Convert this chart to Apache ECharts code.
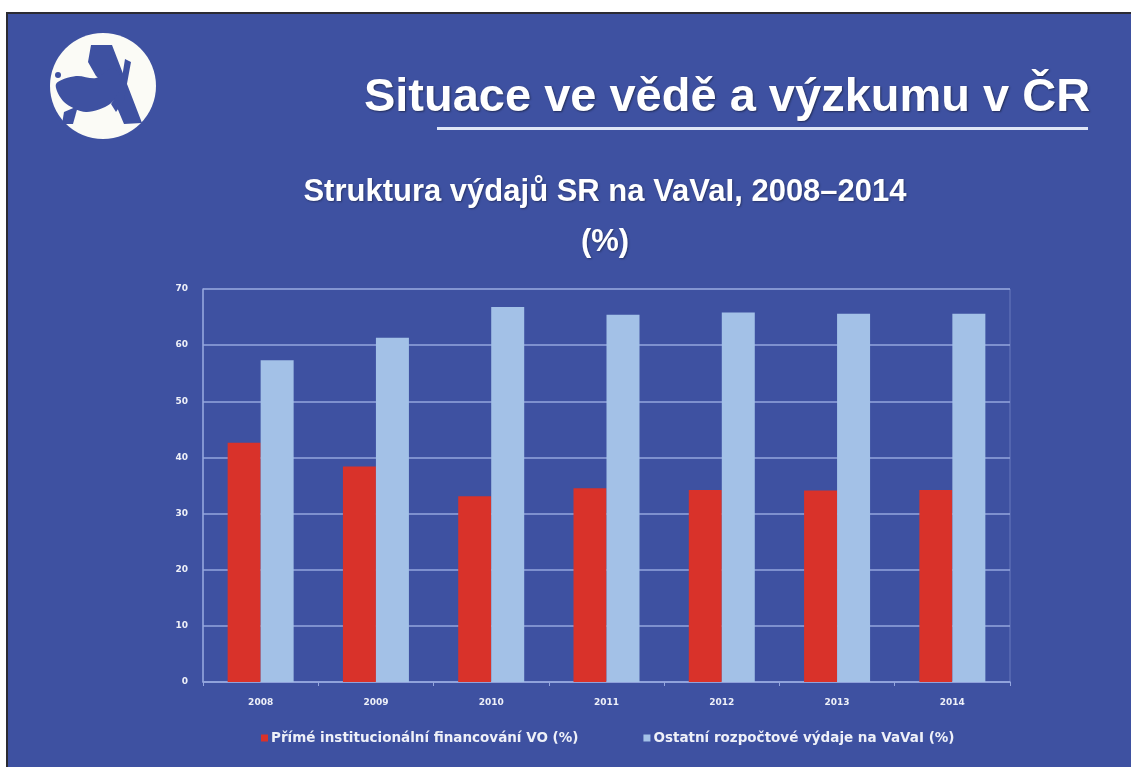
<!DOCTYPE html>
<html>
<head>
<meta charset="utf-8">
<script src="https://cdn.jsdelivr.net/npm/echarts@6/dist/echarts.min.js"></script>
<style>
  html, body { margin: 0; padding: 0; background: #fff; }
  .slide {
    position: absolute;
    left: 6px; top: 12px; right: 0; bottom: 0;
    background: #3e51a1;
    border-left: 2px solid #2b2b33;
    border-top: 2px solid #2b2b33;
  }
  #chart { position: absolute; left: 0; top: 0; width: 1131px; height: 767px; }
</style>
</head>
<body>
<div class="slide"></div>
<div id="chart"></div>
<script>
// data
const years = ['2008', '2009', '2010', '2011', '2012', '2013', '2014'];
const primeFinancovani = [42.6, 38.4, 33.1, 34.5, 34.2, 34.1, 34.2];
const ostatniVydaje = [57.3, 61.3, 66.8, 65.4, 65.8, 65.6, 65.6];
const seriesNames = ['Přímé institucionální financování VO (%)', 'Ostatní rozpočtové výdaje na VaVaI (%)'];

const bg = '#3e51a1';
const gridColor = '#94a6de';
const labelColor = '#eef0f8';

const myChart = echarts.init(document.getElementById('chart'));

// logo - bily kruh s modrou figurou
const logo = [
  { type: 'circle', shape: { cx: 103, cy: 86, r: 53 }, style: { fill: '#fbfbf6' } },
  { type: 'polygon', shape: { points: [[91, 45], [112, 45], [117, 58], [142, 123], [124, 124], [108, 86], [96, 76], [88, 62]] }, style: { fill: bg } },
  { type: 'polygon', shape: { smooth: 0.3, points: [[56, 84], [76, 76], [96, 78], [113, 68], [123, 84], [110, 104], [86, 112], [64, 102]] }, style: { fill: bg } },
  { type: 'polygon', shape: { points: [[64, 112], [78, 106], [73, 124], [62, 124]] }, style: { fill: bg } },
  { type: 'polygon', shape: { points: [[125, 59], [131, 62], [124, 100], [116, 112], [111, 104], [120, 90]] }, style: { fill: bg } },
  { type: 'circle', shape: { cx: 58, cy: 75, r: 3 }, style: { fill: bg } }
];

const option = {
  backgroundColor: 'transparent',
  title: [
    {
      text: 'Situace ve vědě a výzkumu v ČR',
      left: 722,
      top: 70,
      textAlign: 'center',
      textStyle: {
        fontFamily: 'Liberation Sans',
        fontSize: 47,
        fontWeight: 'bold',
        color: '#ffffff',
        textShadowColor: 'rgba(0,0,0,0.45)',
        textShadowBlur: 2,
        textShadowOffsetX: 1,
        textShadowOffsetY: 1
      }
    },
    {
      text: 'Struktura výdajů SR na VaVaI, 2008–2014\n(%)',
      left: 600,
      top: 162,
      textAlign: 'center',
      textStyle: {
        fontFamily: 'Liberation Sans',
        fontSize: 31,
        fontWeight: 'bold',
        color: '#ffffff',
        lineHeight: 50,
        textShadowColor: 'rgba(0,0,0,0.35)',
        textShadowBlur: 2,
        textShadowOffsetX: 1,
        textShadowOffsetY: 1
      }
    }
  ],
  graphic: logo.concat([
    { type: 'rect', shape: { x: 437, y: 127, width: 651, height: 3 }, style: { fill: '#dfe6f7' } }
  ]),
  legend: {
    data: seriesNames,
    left: 256,
    top: 726,
    itemGap: 65,
    itemWidth: 7,
    itemHeight: 7,
    icon: 'rect',
    textStyle: {
      fontFamily: 'DejaVu Sans',
      fontSize: 13.5,
      fontWeight: 'bold',
      color: labelColor,
      padding: [0, 0, 0, -2]
    }
  },
  grid: {
    left: 203,
    right: 121,
    top: 289,
    bottom: 85,
    show: true,
    borderColor: 'rgba(148,166,222,0.5)',
    borderWidth: 1
  },
  xAxis: {
    type: 'category',
    data: years,
    axisLine: { lineStyle: { color: gridColor, width: 1.5 } },
    axisTick: { show: true, length: 4, lineStyle: { color: gridColor } },
    axisLabel: {
      margin: 16,
      fontFamily: 'DejaVu Sans',
      fontSize: 9,
      fontWeight: 'bold',
      color: labelColor
    }
  },
  yAxis: {
    type: 'value',
    min: 0,
    max: 70,
    interval: 10,
    axisLine: { show: true, lineStyle: { color: gridColor, width: 1.5 } },
    axisTick: { show: false },
    splitLine: { lineStyle: { color: gridColor, width: 1.5 } },
    axisLabel: {
      margin: 15,
      fontFamily: 'DejaVu Sans',
      fontSize: 9,
      fontWeight: 'bold',
      color: labelColor
    }
  },
  series: [
    {
      name: seriesNames[0],
      type: 'bar',
      data: primeFinancovani,
      barWidth: 33,
      barGap: '0%',
      itemStyle: { color: '#d9322a' }
    },
    {
      name: seriesNames[1],
      type: 'bar',
      data: ostatniVydaje,
      barWidth: 33,
      barGap: '0%',
      itemStyle: { color: '#a3c1e7' }
    }
  ]
};
myChart.setOption(option);
</script>
</body>
</html>
